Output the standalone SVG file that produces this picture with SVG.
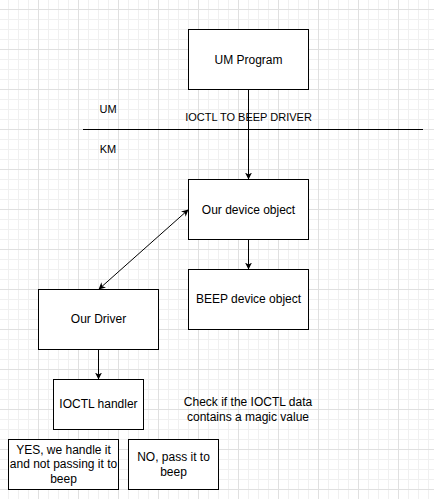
<svg xmlns="http://www.w3.org/2000/svg" width="434" height="499" viewBox="0 0 434 499">
<defs>
<pattern id="grid" patternUnits="userSpaceOnUse" x="38" y="9" width="40" height="40">
<path d="M10.5 0V40M20.5 0V40M30.5 0V40M0 10.5H40M0 20.5H40M0 30.5H40" stroke="#f0f0f0" stroke-width="1" fill="none"/>
<path d="M0.5 0V40M0 0.5H40" stroke="#e0e0e0" stroke-width="1" fill="none"/>
</pattern>
<marker id="arr" viewBox="0 0 10 10" refX="10" refY="5" markerWidth="7" markerHeight="7" markerUnits="userSpaceOnUse" orient="auto-start-reverse">
<path d="M0 0L10 5L0 10L3 5Z" fill="#000"/>
</marker>
<style>
.box{fill:#fff;stroke:#000;stroke-width:1}
text{font-family:"Liberation Sans",Arial,sans-serif;font-size:12px;fill:#000;text-anchor:middle}
.lbl{font-size:11px}
.conn{stroke:#000;stroke-width:1;fill:none}
</style>
</defs>
<rect width="434" height="499" fill="#fff"/>
<rect width="434" height="499" fill="url(#grid)"/>

<g id="connectors">
<line class="conn" x1="248.5" y1="89.5" x2="248.5" y2="179.5" marker-end="url(#arr)"/>
<line class="conn" x1="248.5" y1="239.5" x2="248.5" y2="269.5" marker-end="url(#arr)"/>
<line class="conn" x1="188.5" y1="209.5" x2="98.5" y2="289.5" marker-start="url(#arr)" marker-end="url(#arr)"/>
<line class="conn" x1="98.5" y1="349.5" x2="98.5" y2="379.5" marker-end="url(#arr)"/>
</g>

<g id="boundary">
<line x1="83" y1="129.5" x2="423" y2="129.5" stroke="#000" stroke-width="1"/>
<text x="108" y="112.5" class="lbl">UM</text>
<text x="108" y="152.5" class="lbl">KM</text>
<text x="248.5" y="121" class="lbl">IOCTL TO BEEP DRIVER</text>
</g>

<g id="um-program">
<rect class="box" x="188.5" y="29.5" width="120" height="60"/>
<text x="248.5" y="63.5">UM Program</text>
</g>
<g id="our-device-object">
<rect class="box" x="188.5" y="179.5" width="120" height="60"/>
<text x="248.5" y="213.5">Our device object</text>
</g>
<g id="beep-device-object">
<rect class="box" x="188.5" y="269.5" width="120" height="60"/>
<text x="248.5" y="303">BEEP device object</text>
</g>
<g id="our-driver">
<rect class="box" x="38.5" y="289.5" width="120" height="60"/>
<text x="98.5" y="323">Our Driver</text>
</g>
<g id="ioctl-handler">
<rect class="box" x="53.5" y="379.5" width="90" height="50"/>
<text x="98.5" y="408">IOCTL handler</text>
</g>
<g id="check-note">
<text x="248" y="406">Check if the IOCTL data</text>
<text x="248" y="421">contains a magic value</text>
</g>
<g id="yes-box">
<rect class="box" x="8.5" y="439.5" width="110" height="50"/>
<text x="63.5" y="453.5">YES, we handle it</text>
<text x="63.5" y="468">and not passing it to</text>
<text x="63.5" y="482.5">beep</text>
</g>
<g id="no-box">
<rect class="box" x="128.5" y="439.5" width="90" height="50"/>
<text x="173.5" y="461">NO, pass it to</text>
<text x="173.5" y="476">beep</text>
</g>
</svg>
